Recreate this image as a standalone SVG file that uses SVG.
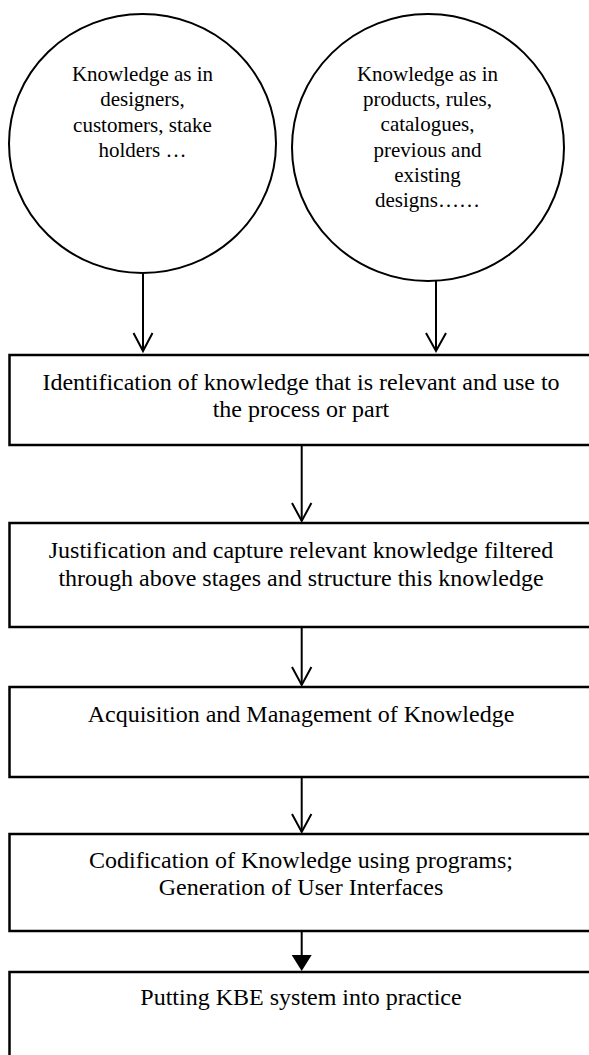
<svg xmlns="http://www.w3.org/2000/svg" width="589" height="1055" viewBox="0 0 589 1055">
<style>
.bg{fill:#fff}
.node{fill:#fff;stroke:#000;stroke-width:2.5}
.circ{fill:#fff;stroke:#000;stroke-width:2}
.t{font-family:"Liberation Serif","Times New Roman",serif;fill:#000;text-anchor:middle}
.tb{font-size:24px}
.tc{font-size:21px}
.edge{stroke:#000;stroke-width:2;fill:none}
.open{stroke:#000;stroke-width:2;fill:none;stroke-linejoin:miter}
.filled{fill:#000;stroke:none}
</style>
<rect class="bg" x="0" y="0" width="589" height="1055"/>
<g id="circle-people">
<ellipse class="circ" cx="142.5" cy="143.5" rx="133.5" ry="129.5"/>
<text class="t tc" x="142.5" y="81">Knowledge as in</text>
<text class="t tc" x="142.5" y="106">designers,</text>
<text class="t tc" x="142.5" y="132">customers, stake</text>
<text class="t tc" x="142.5" y="157">holders …</text>
</g>
<g id="circle-products">
<ellipse class="circ" cx="428" cy="147.5" rx="136" ry="133.5"/>
<text class="t tc" x="427.5" y="81">Knowledge as in</text>
<text class="t tc" x="427.5" y="106">products, rules,</text>
<text class="t tc" x="427.5" y="131">catalogues,</text>
<text class="t tc" x="427.5" y="157">previous and</text>
<text class="t tc" x="427.5" y="182">existing</text>
<text class="t tc" x="427.5" y="207">designs……</text>
</g>
<g id="box-identification">
<rect class="node" x="9.5" y="355" width="600" height="90"/>
<text class="t tb" x="301" y="390">Identification of knowledge that is relevant and use to</text>
<text class="t tb" x="301" y="417">the process or part</text>
</g>
<g id="box-justification">
<rect class="node" x="9.5" y="523" width="600" height="104"/>
<text class="t tb" x="301" y="558">Justification and capture relevant knowledge filtered</text>
<text class="t tb" x="301" y="586">through above stages and structure this knowledge</text>
</g>
<g id="box-acquisition">
<rect class="node" x="9.5" y="687" width="600" height="90"/>
<text class="t tb" x="301" y="722">Acquisition and Management of Knowledge</text>
</g>
<g id="box-codification">
<rect class="node" x="9.5" y="834" width="600" height="97"/>
<text class="t tb" x="301" y="868">Codification of Knowledge using programs;</text>
<text class="t tb" x="301" y="895">Generation of User Interfaces</text>
</g>
<g id="box-practice">
<rect class="node" x="9.5" y="972" width="600" height="100"/>
<text class="t tb" x="301" y="1005">Putting KBE system into practice</text>
</g>
<g id="connectors">
<line class="edge" x1="143" y1="273" x2="143" y2="351"/>
<polyline class="open" points="133.5,333 143,351 152.5,333"/>
<line class="edge" x1="436" y1="281" x2="436" y2="351"/>
<polyline class="open" points="426,333 436,351 446,333"/>
<line class="edge" x1="301.7" y1="446" x2="301.7" y2="521"/>
<polyline class="open" points="292,503 301.7,521 311.4,503"/>
<line class="edge" x1="301.7" y1="628" x2="301.7" y2="685"/>
<polyline class="open" points="292,667 301.7,685 311.4,667"/>
<line class="edge" x1="301.7" y1="778" x2="301.7" y2="832"/>
<polyline class="open" points="292,814 301.7,832 311.4,814"/>
<line class="edge" x1="301.7" y1="932" x2="301.7" y2="957"/>
<polygon class="filled" points="291.7,955 311.7,955 301.7,971"/>
</g>
</svg>
